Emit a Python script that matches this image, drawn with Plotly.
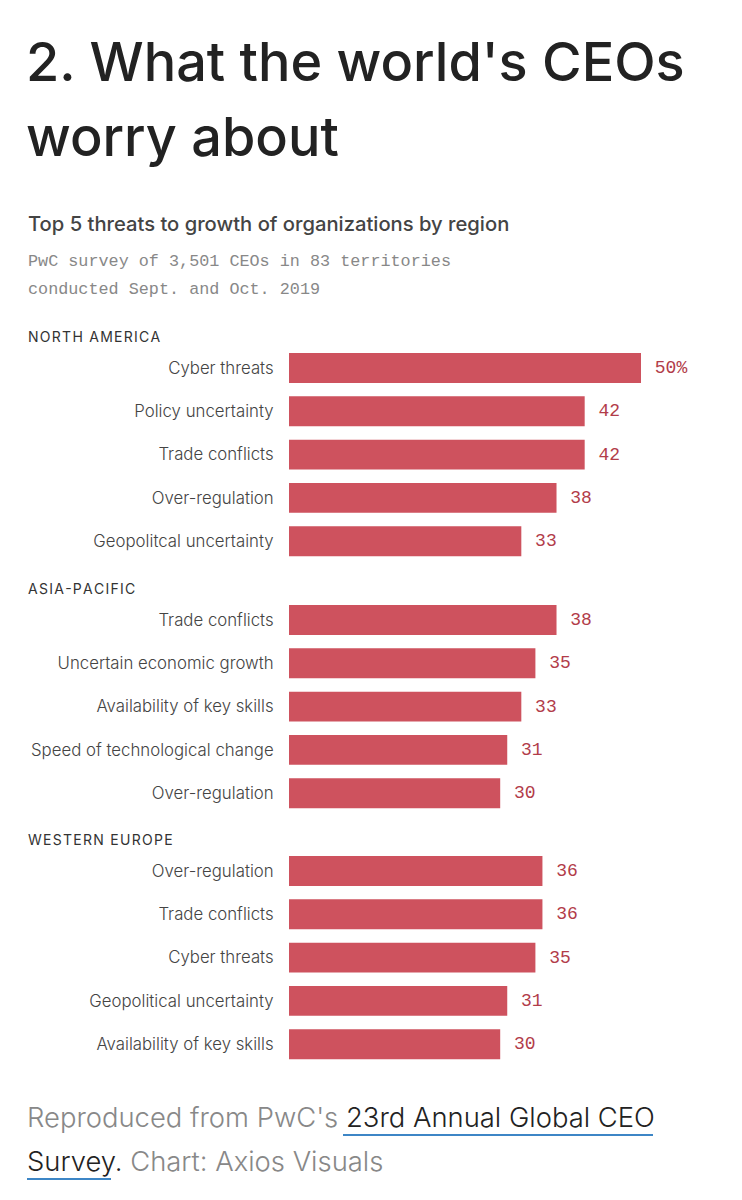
import plotly.graph_objects as go

W, H = 742, 1200

regions = ["NORTH AMERICA", "ASIA-PACIFIC", "WESTERN EUROPE"]
na_labels = ["Cyber threats", "Policy uncertainty", "Trade conflicts", "Over-regulation", "Geopolitcal uncertainty"]
na_values = [50, 42, 42, 38, 33]
ap_labels = ["Trade conflicts", "Uncertain economic growth", "Availability of key skills", "Speed of technological change", "Over-regulation"]
ap_values = [38, 35, 33, 31, 30]
we_labels = ["Over-regulation", "Trade conflicts", "Cyber threats", "Geopolitical uncertainty", "Availability of key skills"]
we_values = [36, 36, 35, 31, 30]

sections = [(na_labels, na_values), (ap_labels, ap_values), (we_labels, we_values)]

BAR = "#ce525e"
LABEL = "#b23c49"
SANS = "Inter"
MONO = "Liberation Mono"

def px(x):
    return x / W

def py(y):
    return 1 - y / H

def spaced(s):
    return "\u200a".join(s)

row_step = 43.3
first_centers = [368, 620, 871]
x_left, x_right = 289, 711

fig = go.Figure()
layout_axes = {}
for k, (labels, values) in enumerate(sections):
    idx = "" if k == 0 else str(k + 1)
    top = first_centers[k] - row_step / 2
    bot = top + row_step * len(labels)
    texts = []
    for j, v in enumerate(values):
        s = f"\u00a0{v}%" if (k == 0 and j == 0) else f"\u00a0{v}"
        texts.append(s)
    fig.add_trace(go.Bar(
        x=values, y=labels, orientation="h",
        marker=dict(color=BAR, line=dict(width=0)),
        text=texts, textposition="outside", cliponaxis=False,
        textfont=dict(family=MONO, size=18, color=LABEL),
        xaxis="x" + idx, yaxis="y" + idx, hoverinfo="skip",
    ))
    layout_axes["xaxis" + idx] = dict(
        domain=[px(x_left), px(x_right)], range=[0, (x_right - x_left) / 7.04],
        anchor="y" + idx, visible=False, fixedrange=True,
    )
    layout_axes["yaxis" + idx] = dict(
        domain=[py(bot), py(top)], anchor="x" + idx, type="category",
        autorange="reversed", showgrid=False, showline=False, zeroline=False,
        ticks="outside", ticklen=11, tickcolor="rgba(0,0,0,0)",
        tickfont=dict(family=SANS, size=16.8, color="#444", weight=300),
    )

fig.update_layout(
    width=W, height=H, margin=dict(l=0, r=0, t=0, b=0),
    paper_bgcolor="white", plot_bgcolor="white", showlegend=False,
    bargap=0.31, **layout_axes,
)

ann = []
ann.append(dict(text="2. What the world's CEOs", x=px(24), y=py(62), xanchor="left", yanchor="middle",
                font=dict(family=SANS, size=54, color="#222", weight=500)))
ann.append(dict(text="worry about", x=px(24), y=py(137), xanchor="left", yanchor="middle",
                font=dict(family=SANS, size=54, color="#222", weight=500)))
ann.append(dict(text="Top 5 threats to growth of organizations by region", x=px(26), y=py(224), xanchor="left", yanchor="middle",
                font=dict(family=SANS, size=20.2, color="#444", weight=500)))
ann.append(dict(text="PwC survey of 3,501 CEOs in 83 territories", x=px(26), y=py(262), xanchor="left", yanchor="middle",
                font=dict(family=MONO, size=16.8, color="#888")))
ann.append(dict(text="conducted Sept. and Oct. 2019", x=px(26), y=py(289), xanchor="left", yanchor="middle",
                font=dict(family=MONO, size=16.8, color="#888")))
for k, r in enumerate(regions):
    ann.append(dict(text=spaced(r), x=px(26), y=py(first_centers[k] - 32), xanchor="left", yanchor="middle",
                    font=dict(family=SANS, size=14, color="#333", weight=400)))
ann.append(dict(text="Reproduced from PwC's <span style='color:#222'>23rd Annual Global CEO</span>", x=px(25), y=py(1117),
                xanchor="left", yanchor="middle", font=dict(family=SANS, size=27.4, color="#888", weight=300)))
ann.append(dict(text="<span style='color:#222'>Survey.</span> Chart: Axios Visuals", x=px(25), y=py(1161),
                xanchor="left", yanchor="middle", font=dict(family=SANS, size=27.4, color="#888", weight=300)))
for a in ann:
    a.update(xref="paper", yref="paper", showarrow=False)
fig.update_layout(annotations=ann)

fig.add_shape(type="line", xref="paper", yref="paper", x0=px(343), x1=px(653), y0=py(1135), y1=py(1135),
              line=dict(color="#3d86c6", width=2))
fig.add_shape(type="line", xref="paper", yref="paper", x0=px(27), x1=px(111), y0=py(1179), y1=py(1179),
              line=dict(color="#3d86c6", width=2))

fig.write_html("out.html")
